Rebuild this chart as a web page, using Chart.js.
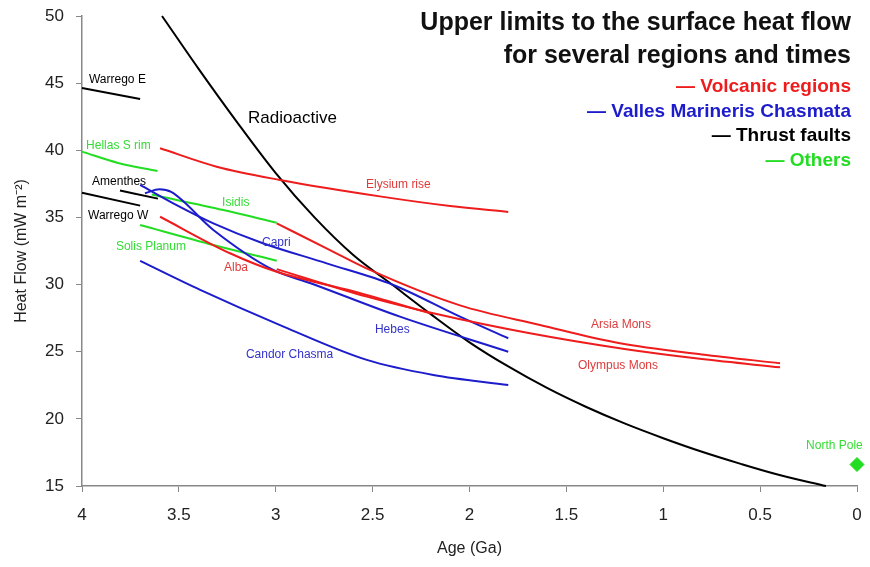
<!DOCTYPE html>
<html>
<head>
<meta charset="utf-8">
<script src="https://cdn.jsdelivr.net/npm/chart.js@4/dist/chart.umd.min.js"></script>
<style>
  html, body { margin: 0; padding: 0; background: #fff; }
  #wrap { width: 870px; height: 567px; }
</style>
</head>
<body>
<div id="wrap"><canvas id="chart" width="870" height="567"></canvas></div>
<script>
// ages in Ga, heat flow in mW m-2
const radioAge = [3.587, 3.4, 3.2, 3.0, 2.8, 2.6, 2.4, 2.2, 2.0, 1.8, 1.6, 1.4, 1.2, 1.0, 0.8, 0.6, 0.4, 0.16];
const radioFlow = [50, 46.1, 42.1, 38.3, 35.0, 32.2, 30.0, 27.8, 25.7, 23.9, 22.3, 20.9, 19.66, 18.56, 17.55, 16.65, 15.82, 15.0];

const elysiumAge = [3.597, 3.305, 2.978, 2.454, 2.1, 1.8];
const elysiumFlow = [40.15, 38.78, 37.79, 36.55, 35.85, 35.41];
const arsiaAge = [2.995, 2.72, 2.514, 2.049, 1.636, 1.223, 0.8, 0.397];
const arsiaFlow = [34.56, 32.57, 31.09, 28.45, 26.99, 25.63, 24.8, 24.14];
const olympusAge = [2.995, 2.53, 2.187, 1.688, 1.2, 0.8, 0.397];
const olympusFlow = [31.15, 29.1, 27.86, 26.37, 25.2, 24.45, 23.84];
const albaAge = [3.597, 3.236, 2.995, 2.6, 2.2];
const albaFlow = [35.05, 32.33, 30.95, 29.5, 27.85];

const capriAge = [3.7, 3.529, 3.322, 3.07, 2.737, 2.393, 2.049, 1.8];
const capriFlow = [37.42, 36.05, 34.56, 33.1, 31.58, 29.97, 27.61, 26.0];
const hebesAge = [3.675, 3.6, 3.54, 3.322, 3.013, 2.82, 2.359, 1.8];
const hebesFlow = [36.8, 37.1, 36.9, 34.07, 31.09, 30.1, 27.61, 25.0];
const candorAge = [3.7, 3.39, 2.96, 2.53, 2.187, 1.8];
const candorFlow = [31.76, 29.6, 26.87, 24.39, 23.27, 22.52];

const warregoEAge = [4, 3.7];
const warregoEFlow = [44.64, 43.82];
const amenthesAge = [3.804, 3.608];
const amenthesFlow = [37.0, 36.4];
const warregoWAge = [4, 3.7];
const warregoWFlow = [36.84, 35.88];

const hellasAge = [4, 3.814, 3.61];
const hellasFlow = [39.9, 39.06, 38.46];
const solisAge = [3.7, 3.322, 2.995];
const solisFlow = [34.44, 32.95, 31.78];
const isidisAge = [3.64, 3.27, 2.995];
const isidisFlow = [36.7, 35.55, 34.61];
const northPoleAge = [0];
const northPoleFlow = [16.6];

const xTicks = [4, 3.5, 3, 2.5, 2, 1.5, 1, 0.5, 0];
const yTicks = [15, 20, 25, 30, 35, 40, 45, 50];

const RED = "#ee1c1c";
const BLUE = "#1c1ccc";
const GREEN = "#22dd22";
const BLACK = "#000000";

// name, age, flow, text colour, size
const labels = [
  ["Warrego E", 3.964, 45.29, BLACK, 12],
  ["Hellas S rim", 3.979, 40.32, "#33dd33", 12],
  ["Amenthes", 3.948, 37.64, BLACK, 12],
  ["Warrego W", 3.969, 35.11, BLACK, 12],
  ["Solis Planum", 3.825, 32.8, "#33dd33", 12],
  ["Isidis", 3.277, 36.07, "#33dd33", 12],
  ["Capri", 3.071, 33.1, "#3333cc", 12],
  ["Alba", 3.267, 31.24, "#e03a3a", 12],
  ["Elysium rise", 2.534, 37.42, "#e03a3a", 12],
  ["Hebes", 2.488, 26.62, "#3333cc", 12],
  ["Candor Chasma", 3.154, 24.75, "#3333cc", 12],
  ["Arsia Mons", 1.373, 26.99, "#e03a3a", 12],
  ["Olympus Mons", 1.44, 23.94, "#e03a3a", 12],
  ["North Pole", 0.263, 17.98, "#33dd33", 12],
  ["Radioactive", 3.143, 42.4, BLACK, 17]
];

const titleLines = ["Upper limits to the surface heat flow", "for several regions and times"];
const legendItems = [
  ["\u2014 Volcanic regions", RED],
  ["\u2014 Valles Marineris Chasmata", BLUE],
  ["\u2014 Thrust faults", BLACK],
  ["\u2014 Others", GREEN]
];

function pts(ages, flows) {
  return ages.map((a, i) => ({ x: a, y: flows[i] }));
}

function series(ages, flows, color) {
  return {
    data: pts(ages, flows),
    borderColor: color,
    backgroundColor: color,
    borderWidth: 2,
    pointRadius: 0,
    showLine: true,
    fill: false,
    cubicInterpolationMode: "monotone"
  };
}

const datasets = [
  series(elysiumAge, elysiumFlow, RED),
  series(arsiaAge, arsiaFlow, RED),
  series(olympusAge, olympusFlow, RED),
  series(albaAge, albaFlow, RED),
  series(capriAge, capriFlow, BLUE),
  series(hebesAge, hebesFlow, BLUE),
  series(candorAge, candorFlow, BLUE),
  series(warregoEAge, warregoEFlow, BLACK),
  series(amenthesAge, amenthesFlow, BLACK),
  series(warregoWAge, warregoWFlow, BLACK),
  series(hellasAge, hellasFlow, GREEN),
  series(solisAge, solisFlow, GREEN),
  series(isidisAge, isidisFlow, GREEN),
  series(radioAge, radioFlow, BLACK),
  {
    data: pts(northPoleAge, northPoleFlow),
    borderColor: GREEN,
    backgroundColor: GREEN,
    pointStyle: "rectRot",
    pointRadius: 7,
    showLine: false
  }
];

const textPlugin = {
  id: "textPlugin",
  afterDraw(chart) {
    const ctx = chart.ctx;
    const xs = chart.scales.x, ys = chart.scales.y;
    ctx.save();
    ctx.textBaseline = "middle";
    ctx.textAlign = "left";
    labels.forEach(([name, a, f, c, size]) => {
      ctx.font = `${size}px "Liberation Sans", Arial, sans-serif`;
      ctx.fillStyle = c;
      ctx.fillText(name, xs.getPixelForValue(a), ys.getPixelForValue(f));
    });

    ctx.textAlign = "right";
    ctx.font = 'bold 25px "Liberation Sans", Arial, sans-serif';
    ctx.fillStyle = "#111";
    titleLines.forEach((t, i) => ctx.fillText(t, 851, 23 + i * 33));

    ctx.font = 'bold 19px "Liberation Sans", Arial, sans-serif';
    legendItems.forEach(([t, c], i) => {
      ctx.fillStyle = c;
      ctx.fillText(t, 851, 87 + i * 24.5);
    });
    ctx.restore();
  }
};

const FONT = "'Liberation Sans', Arial, sans-serif";

new Chart(document.getElementById("chart"), {
  type: "line",
  data: { datasets },
  options: {
    responsive: false,
    animation: false,
    events: [],
    clip: false,
    layout: { padding: { top: 16, right: 13, left: 0, bottom: 0 } },
    plugins: { legend: { display: false }, tooltip: { enabled: false } },
    scales: {
      x: {
        type: "linear",
        reverse: true,
        min: 0,
        max: 4,
        afterBuildTicks: s => { s.ticks = xTicks.map(v => ({ value: v })); },
        afterFit: s => { s.height = 81; s.paddingLeft = 0; s.paddingRight = 0; },
        grid: { drawOnChartArea: false, drawTicks: true, tickLength: 6, color: "#888" },
        border: { color: "#888", width: 1.5 },
        ticks: { color: "#222", padding: 13, maxRotation: 0, callback: v => String(v), font: { size: 17, family: FONT } },
        title: { display: true, text: "Age (Ga)", color: "#222", padding: { top: 0, bottom: 9 }, font: { size: 16, family: FONT } }
      },
      y: {
        type: "linear",
        min: 15,
        max: 50,
        afterBuildTicks: s => { s.ticks = yTicks.map(v => ({ value: v })); },
        afterFit: s => { s.width = 82; s.paddingTop = 0; s.paddingBottom = 0; },
        grid: { drawOnChartArea: false, drawTicks: true, tickLength: 6, color: "#888" },
        border: { color: "#888", width: 1.5 },
        ticks: { color: "#222", padding: 12, callback: v => String(v), font: { size: 17, family: FONT } },
        title: { display: true, text: "Heat Flow (mW m\u207B\u00B2)", color: "#222", padding: { top: 12, bottom: 0 }, font: { size: 16, family: FONT } }
      }
    }
  },
  plugins: [textPlugin]
});
</script>
</body>
</html>
